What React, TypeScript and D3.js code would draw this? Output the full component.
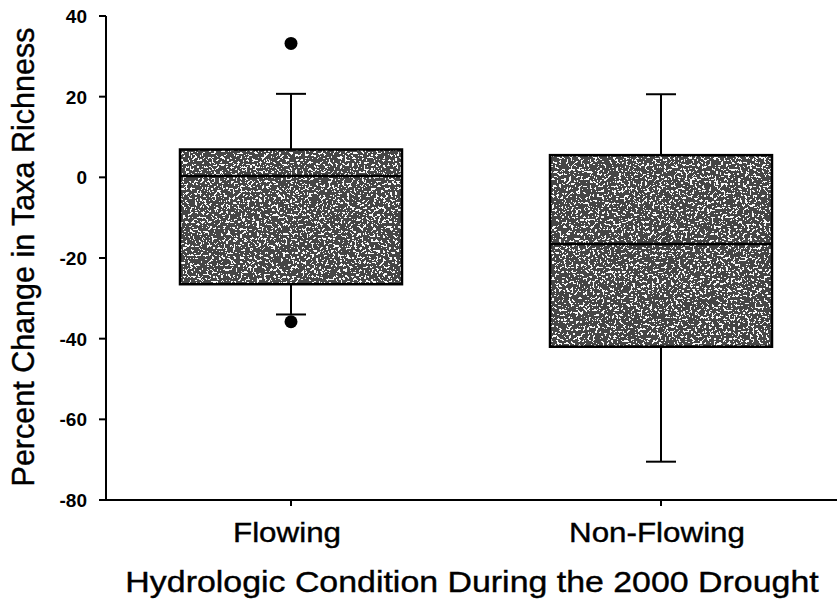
import React from "react";
import { scaleLinear, scalePoint } from "d3";

// Box-plot summaries (percent change)
const categories = ["Flowing", "Non-Flowing"];
const whiskerLow = [-34, -70.5];
const q1 = [-26.5, -42];
const median = [0.3, -16.5];
const q3 = [6.9, 5.5];
const whiskerHigh = [20.7, 20.6];
const outliers = [[33.2, -35.8], []];
const yTicks = [-80, -60, -40, -20, 0, 20, 40];

const W = 837;
const H = 600;
const axisX = 106;
const font = "Liberation Sans, Arial, sans-serif";
// threshold table for the speckled box fill
const speckle = "0.06 0.06 0.06 0.06 0.06 0.06 0.95 0.95 0.95 0.95 0.95";

export default function App() {
  const y = scaleLinear().domain([-80, 40]).range([500, 16]);
  const x = scalePoint().domain(categories).range([axisX, 846]).padding(0.5);
  const boxW = x.step() * 0.6;
  const capW = 30;

  return (
    <div style={{ position: "absolute", left: 0, top: 0 }}>
      <svg width={W} height={H} style={{ display: "block", background: "#fff" }}>
        <defs>
          <filter id="speckle" x="0" y="0" width="100%" height="100%">
            <feTurbulence type="fractalNoise" baseFrequency="0.42" numOctaves="2" seed="4" />
            <feColorMatrix
              type="matrix"
              values="0.33 0.33 0.33 0 0  0.33 0.33 0.33 0 0  0.33 0.33 0.33 0 0  0 0 0 0 1"
            />
            <feComponentTransfer>
              <feFuncR type="discrete" tableValues={speckle} />
              <feFuncG type="discrete" tableValues={speckle} />
              <feFuncB type="discrete" tableValues={speckle} />
            </feComponentTransfer>
          </filter>
        </defs>

        {/* boxes */}
        {categories.map((c, i) => {
          const cx = x(c)!;
          const top = y(q3[i]);
          const bot = y(q1[i]);
          return (
            <g key={c} stroke="#000" strokeWidth={2}>
              <line x1={cx} x2={cx} y1={y(whiskerHigh[i])} y2={top} />
              <line x1={cx} x2={cx} y1={bot} y2={y(whiskerLow[i])} />
              <line x1={cx - capW / 2} x2={cx + capW / 2} y1={y(whiskerHigh[i])} y2={y(whiskerHigh[i])} />
              <line x1={cx - capW / 2} x2={cx + capW / 2} y1={y(whiskerLow[i])} y2={y(whiskerLow[i])} />
              <rect
                x={cx - boxW / 2}
                y={top}
                width={boxW}
                height={bot - top}
                fill="#777"
                stroke="none"
                filter="url(#speckle)"
              />
              <rect x={cx - boxW / 2} y={top} width={boxW} height={bot - top} fill="none" strokeWidth={2.5} />
              <line x1={cx - boxW / 2} x2={cx + boxW / 2} y1={y(median[i])} y2={y(median[i])} strokeWidth={2.5} />
              {outliers[i].map((v, j) => (
                <circle key={j} cx={cx} cy={y(v)} r={6.5} fill="#000" stroke="none" />
              ))}
            </g>
          );
        })}

        {/* y axis */}
        <line x1={axisX} x2={axisX} y1={y(40)} y2={y(-80) + 1} stroke="#000" strokeWidth={2} />
        {yTicks.map((t) => (
          <g key={t}>
            <line x1={axisX - 7} x2={axisX} y1={y(t)} y2={y(t)} stroke="#000" strokeWidth={2} />
            <text
              x={axisX - 19}
              y={y(t)}
              dy="0.36em"
              textAnchor="end"
              fontFamily={font}
              fontWeight="bold"
              fontSize={19}
            >
              {t}
            </text>
          </g>
        ))}

        {/* x axis */}
        <line x1={axisX - 7} x2={W} y1={y(-80)} y2={y(-80)} stroke="#000" strokeWidth={2} />
        {categories.map((c) => (
          <g key={c}>
            <line x1={x(c)!} x2={x(c)!} y1={y(-80)} y2={y(-80) + 6} stroke="#000" strokeWidth={2} />
            <text
              transform={`translate(${x(c)! - 4},542) scale(1.12,1)`}
              textAnchor="middle"
              fontFamily={font}
              fontSize={28}
              stroke="#000"
              strokeWidth={0.4}
            >
              {c}
            </text>
          </g>
        ))}

        <text
          transform="translate(472,592) scale(1.13,1)"
          textAnchor="middle"
          fontFamily={font}
          fontSize={30}
          stroke="#000"
          strokeWidth={0.4}
        >
          Hydrologic Condition During the 2000 Drought
        </text>
        <text
          transform="translate(34,257) rotate(-90)"
          textAnchor="middle"
          fontFamily={font}
          fontSize={30.5}
          stroke="#000"
          strokeWidth={0.4}
        >
          Percent Change in Taxa Richness
        </text>
      </svg>
    </div>
  );
}
